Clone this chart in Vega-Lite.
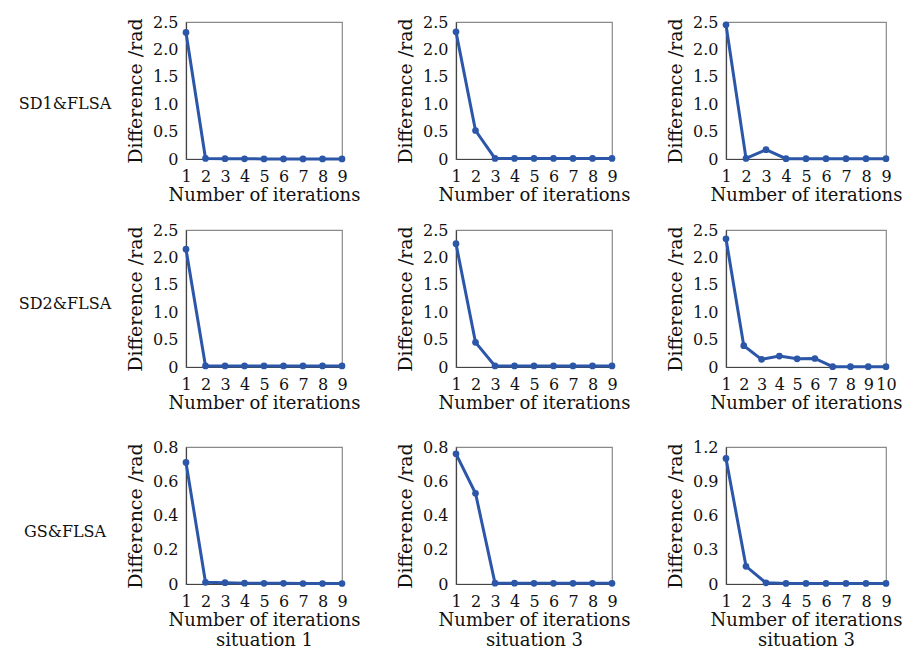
{
  "$schema": "https://vega.github.io/schema/vega-lite/v6.json",
  "background": "white",
  "padding": {"left": 5, "top": 13, "right": 2, "bottom": 5},
  "config": {
    "font": "DejaVu Serif",
    "view": {"stroke": "#8a8a8a", "strokeWidth": 1.2},
    "axis": {"labelFont": "DejaVu Serif", "labelFontSize": 16, "labelColor": "#111", "titleFont": "DejaVu Serif", "titleFontWeight": "normal", "titleColor": "#111", "domainColor": "#444", "domainWidth": 1.2, "ticks": false, "grid": false, "labelOverlap": false, "labelFlush": false},
    "axisX": {"labelPadding": 9, "titlePadding": 2, "titleFontSize": 18},
    "axisY": {"labelPadding": 8, "titlePadding": 7, "titleFontSize": 19},
    "text": {"font": "DejaVu Serif", "fontSize": 16, "color": "#111"}
  },
  "data": {"values": [
    {"panel": "a", "iter": 1, "diff": 2.31}, {"panel": "a", "iter": 2, "diff": 0.01}, {"panel": "a", "iter": 3, "diff": 0.005}, {"panel": "a", "iter": 4, "diff": 0.003}, {"panel": "a", "iter": 5, "diff": 0.002}, {"panel": "a", "iter": 6, "diff": 0.002}, {"panel": "a", "iter": 7, "diff": 0.001}, {"panel": "a", "iter": 8, "diff": 0.001}, {"panel": "a", "iter": 9, "diff": 0.001},
    {"panel": "b", "iter": 1, "diff": 2.32}, {"panel": "b", "iter": 2, "diff": 0.52}, {"panel": "b", "iter": 3, "diff": 0.01}, {"panel": "b", "iter": 4, "diff": 0.01}, {"panel": "b", "iter": 5, "diff": 0.01}, {"panel": "b", "iter": 6, "diff": 0.01}, {"panel": "b", "iter": 7, "diff": 0.01}, {"panel": "b", "iter": 8, "diff": 0.01}, {"panel": "b", "iter": 9, "diff": 0.01},
    {"panel": "c", "iter": 1, "diff": 2.45}, {"panel": "c", "iter": 2, "diff": 0.01}, {"panel": "c", "iter": 3, "diff": 0.17}, {"panel": "c", "iter": 4, "diff": 0.005}, {"panel": "c", "iter": 5, "diff": 0.005}, {"panel": "c", "iter": 6, "diff": 0.005}, {"panel": "c", "iter": 7, "diff": 0.005}, {"panel": "c", "iter": 8, "diff": 0.005}, {"panel": "c", "iter": 9, "diff": 0.005},
    {"panel": "d", "iter": 1, "diff": 2.15}, {"panel": "d", "iter": 2, "diff": 0.02}, {"panel": "d", "iter": 3, "diff": 0.02}, {"panel": "d", "iter": 4, "diff": 0.02}, {"panel": "d", "iter": 5, "diff": 0.02}, {"panel": "d", "iter": 6, "diff": 0.02}, {"panel": "d", "iter": 7, "diff": 0.02}, {"panel": "d", "iter": 8, "diff": 0.02}, {"panel": "d", "iter": 9, "diff": 0.02},
    {"panel": "e", "iter": 1, "diff": 2.25}, {"panel": "e", "iter": 2, "diff": 0.45}, {"panel": "e", "iter": 3, "diff": 0.02}, {"panel": "e", "iter": 4, "diff": 0.02}, {"panel": "e", "iter": 5, "diff": 0.02}, {"panel": "e", "iter": 6, "diff": 0.02}, {"panel": "e", "iter": 7, "diff": 0.02}, {"panel": "e", "iter": 8, "diff": 0.02}, {"panel": "e", "iter": 9, "diff": 0.02},
    {"panel": "f", "iter": 1, "diff": 2.34}, {"panel": "f", "iter": 2, "diff": 0.39}, {"panel": "f", "iter": 3, "diff": 0.14}, {"panel": "f", "iter": 4, "diff": 0.2}, {"panel": "f", "iter": 5, "diff": 0.15}, {"panel": "f", "iter": 6, "diff": 0.155}, {"panel": "f", "iter": 7, "diff": 0.005}, {"panel": "f", "iter": 8, "diff": 0.005}, {"panel": "f", "iter": 9, "diff": 0.005}, {"panel": "f", "iter": 10, "diff": 0.005},
    {"panel": "g", "iter": 1, "diff": 0.71}, {"panel": "g", "iter": 2, "diff": 0.01}, {"panel": "g", "iter": 3, "diff": 0.008}, {"panel": "g", "iter": 4, "diff": 0.005}, {"panel": "g", "iter": 5, "diff": 0.004}, {"panel": "g", "iter": 6, "diff": 0.004}, {"panel": "g", "iter": 7, "diff": 0.003}, {"panel": "g", "iter": 8, "diff": 0.003}, {"panel": "g", "iter": 9, "diff": 0.003},
    {"panel": "h", "iter": 1, "diff": 0.76}, {"panel": "h", "iter": 2, "diff": 0.53}, {"panel": "h", "iter": 3, "diff": 0.005}, {"panel": "h", "iter": 4, "diff": 0.005}, {"panel": "h", "iter": 5, "diff": 0.004}, {"panel": "h", "iter": 6, "diff": 0.004}, {"panel": "h", "iter": 7, "diff": 0.004}, {"panel": "h", "iter": 8, "diff": 0.004}, {"panel": "h", "iter": 9, "diff": 0.004},
    {"panel": "i", "iter": 1, "diff": 1.1}, {"panel": "i", "iter": 2, "diff": 0.155}, {"panel": "i", "iter": 3, "diff": 0.01}, {"panel": "i", "iter": 4, "diff": 0.005}, {"panel": "i", "iter": 5, "diff": 0.005}, {"panel": "i", "iter": 6, "diff": 0.005}, {"panel": "i", "iter": 7, "diff": 0.005}, {"panel": "i", "iter": 8, "diff": 0.005}, {"panel": "i", "iter": 9, "diff": 0.005}
  ]},
  "spacing": 16,
  "vconcat": [
    {
      "spacing": 0,
      "hconcat": [
        {"width": 120, "height": 164, "view": {"stroke": null}, "data": {"values": [{"label": "SD1&FLSA"}]}, "mark": {"type": "text", "baseline": "middle", "align": "center"}, "encoding": {"text": {"field": "label"}}},
        {"spacing": 34, "hconcat": [
        {"width": 156, "height": 137, "transform": [{"filter": "datum.panel == 'a'"}],
         "mark": {"type": "line", "color": "#2c56a8", "strokeWidth": 3, "point": {"filled": true, "size": 45, "color": "#2c56a8"}},
         "encoding": {
           "x": {"field": "iter", "type": "quantitative", "scale": {"domain": [1, 9]}, "axis": {"values": [1, 2, 3, 4, 5, 6, 7, 8, 9], "title": "Number of iterations"}},
           "y": {"field": "diff", "type": "quantitative", "scale": {"domain": [0, 2.5]}, "axis": {"values": [0, 0.5, 1, 1.5, 2, 2.5], "labelExpr": "datum.value == 0 ? '0' : format(datum.value, '.1f')", "title": "Difference /rad"}}}},
        {"width": 156, "height": 137, "transform": [{"filter": "datum.panel == 'b'"}],
         "mark": {"type": "line", "color": "#2c56a8", "strokeWidth": 3, "point": {"filled": true, "size": 45, "color": "#2c56a8"}},
         "encoding": {
           "x": {"field": "iter", "type": "quantitative", "scale": {"domain": [1, 9]}, "axis": {"values": [1, 2, 3, 4, 5, 6, 7, 8, 9], "title": "Number of iterations"}},
           "y": {"field": "diff", "type": "quantitative", "scale": {"domain": [0, 2.5]}, "axis": {"values": [0, 0.5, 1, 1.5, 2, 2.5], "labelExpr": "datum.value == 0 ? '0' : format(datum.value, '.1f')", "title": "Difference /rad"}}}},
        {"width": 160, "height": 137, "transform": [{"filter": "datum.panel == 'c'"}],
         "mark": {"type": "line", "color": "#2c56a8", "strokeWidth": 3, "point": {"filled": true, "size": 45, "color": "#2c56a8"}},
         "encoding": {
           "x": {"field": "iter", "type": "quantitative", "scale": {"domain": [1, 9]}, "axis": {"values": [1, 2, 3, 4, 5, 6, 7, 8, 9], "title": "Number of iterations"}},
           "y": {"field": "diff", "type": "quantitative", "scale": {"domain": [0, 2.5]}, "axis": {"values": [0, 0.5, 1, 1.5, 2, 2.5], "labelExpr": "datum.value == 0 ? '0' : format(datum.value, '.1f')", "title": "Difference /rad"}}}}
        ]}
      ]
    },
    {
      "spacing": 25,
      "vconcat": [
        {
          "spacing": 0,
          "hconcat": [
            {"width": 120, "height": 148, "view": {"stroke": null}, "data": {"values": [{"label": "SD2&FLSA"}]}, "mark": {"type": "text", "baseline": "middle", "align": "center"}, "encoding": {"text": {"field": "label"}}},
            {"spacing": 34, "hconcat": [
            {"width": 156, "height": 137, "transform": [{"filter": "datum.panel == 'd'"}],
             "mark": {"type": "line", "color": "#2c56a8", "strokeWidth": 3, "point": {"filled": true, "size": 45, "color": "#2c56a8"}},
             "encoding": {
               "x": {"field": "iter", "type": "quantitative", "scale": {"domain": [1, 9]}, "axis": {"values": [1, 2, 3, 4, 5, 6, 7, 8, 9], "title": "Number of iterations"}},
               "y": {"field": "diff", "type": "quantitative", "scale": {"domain": [0, 2.5]}, "axis": {"values": [0, 0.5, 1, 1.5, 2, 2.5], "labelExpr": "datum.value == 0 ? '0' : format(datum.value, '.1f')", "title": "Difference /rad"}}}},
            {"width": 156, "height": 137, "transform": [{"filter": "datum.panel == 'e'"}],
             "mark": {"type": "line", "color": "#2c56a8", "strokeWidth": 3, "point": {"filled": true, "size": 45, "color": "#2c56a8"}},
             "encoding": {
               "x": {"field": "iter", "type": "quantitative", "scale": {"domain": [1, 9]}, "axis": {"values": [1, 2, 3, 4, 5, 6, 7, 8, 9], "title": "Number of iterations"}},
               "y": {"field": "diff", "type": "quantitative", "scale": {"domain": [0, 2.5]}, "axis": {"values": [0, 0.5, 1, 1.5, 2, 2.5], "labelExpr": "datum.value == 0 ? '0' : format(datum.value, '.1f')", "title": "Difference /rad"}}}},
            {"width": 160, "height": 137, "transform": [{"filter": "datum.panel == 'f'"}],
             "mark": {"type": "line", "color": "#2c56a8", "strokeWidth": 3, "point": {"filled": true, "size": 45, "color": "#2c56a8"}},
             "encoding": {
               "x": {"field": "iter", "type": "quantitative", "scale": {"domain": [1, 10]}, "axis": {"values": [1, 2, 3, 4, 5, 6, 7, 8, 9, 10], "title": "Number of iterations"}},
               "y": {"field": "diff", "type": "quantitative", "scale": {"domain": [0, 2.5]}, "axis": {"values": [0, 0.5, 1, 1.5, 2, 2.5], "labelExpr": "datum.value == 0 ? '0' : format(datum.value, '.1f')", "title": "Difference /rad"}}}}
            ]}
          ]
        },
        {
          "spacing": 0,
          "hconcat": [
            {"width": 120, "height": 170, "view": {"stroke": null}, "data": {"values": [{"label": "GS&FLSA"}]}, "mark": {"type": "text", "baseline": "middle", "align": "center"}, "encoding": {"text": {"field": "label"}}},
            {"spacing": 34, "hconcat": [
            {"width": 156, "height": 137, "transform": [{"filter": "datum.panel == 'g'"}],
             "mark": {"type": "line", "color": "#2c56a8", "strokeWidth": 3, "point": {"filled": true, "size": 45, "color": "#2c56a8"}},
             "encoding": {
               "x": {"field": "iter", "type": "quantitative", "scale": {"domain": [1, 9]}, "axis": {"values": [1, 2, 3, 4, 5, 6, 7, 8, 9], "title": ["Number of iterations", "situation 1"]}},
               "y": {"field": "diff", "type": "quantitative", "scale": {"domain": [0, 0.8]}, "axis": {"values": [0, 0.2, 0.4, 0.6, 0.8], "labelExpr": "datum.value == 0 ? '0' : format(datum.value, '.1f')", "title": "Difference /rad"}}}},
            {"width": 156, "height": 137, "transform": [{"filter": "datum.panel == 'h'"}],
             "mark": {"type": "line", "color": "#2c56a8", "strokeWidth": 3, "point": {"filled": true, "size": 45, "color": "#2c56a8"}},
             "encoding": {
               "x": {"field": "iter", "type": "quantitative", "scale": {"domain": [1, 9]}, "axis": {"values": [1, 2, 3, 4, 5, 6, 7, 8, 9], "title": ["Number of iterations", "situation 3"]}},
               "y": {"field": "diff", "type": "quantitative", "scale": {"domain": [0, 0.8]}, "axis": {"values": [0, 0.2, 0.4, 0.6, 0.8], "labelExpr": "datum.value == 0 ? '0' : format(datum.value, '.1f')", "title": "Difference /rad"}}}},
            {"width": 160, "height": 137, "transform": [{"filter": "datum.panel == 'i'"}],
             "mark": {"type": "line", "color": "#2c56a8", "strokeWidth": 3, "point": {"filled": true, "size": 45, "color": "#2c56a8"}},
             "encoding": {
               "x": {"field": "iter", "type": "quantitative", "scale": {"domain": [1, 9]}, "axis": {"values": [1, 2, 3, 4, 5, 6, 7, 8, 9], "title": ["Number of iterations", "situation 3"]}},
               "y": {"field": "diff", "type": "quantitative", "scale": {"domain": [0, 1.2]}, "axis": {"values": [0, 0.3, 0.6, 0.9, 1.2], "labelExpr": "datum.value == 0 ? '0' : format(datum.value, '.1f')", "title": "Difference /rad"}}}}
            ]}
          ]
        }
      ]
    }
  ]
}
